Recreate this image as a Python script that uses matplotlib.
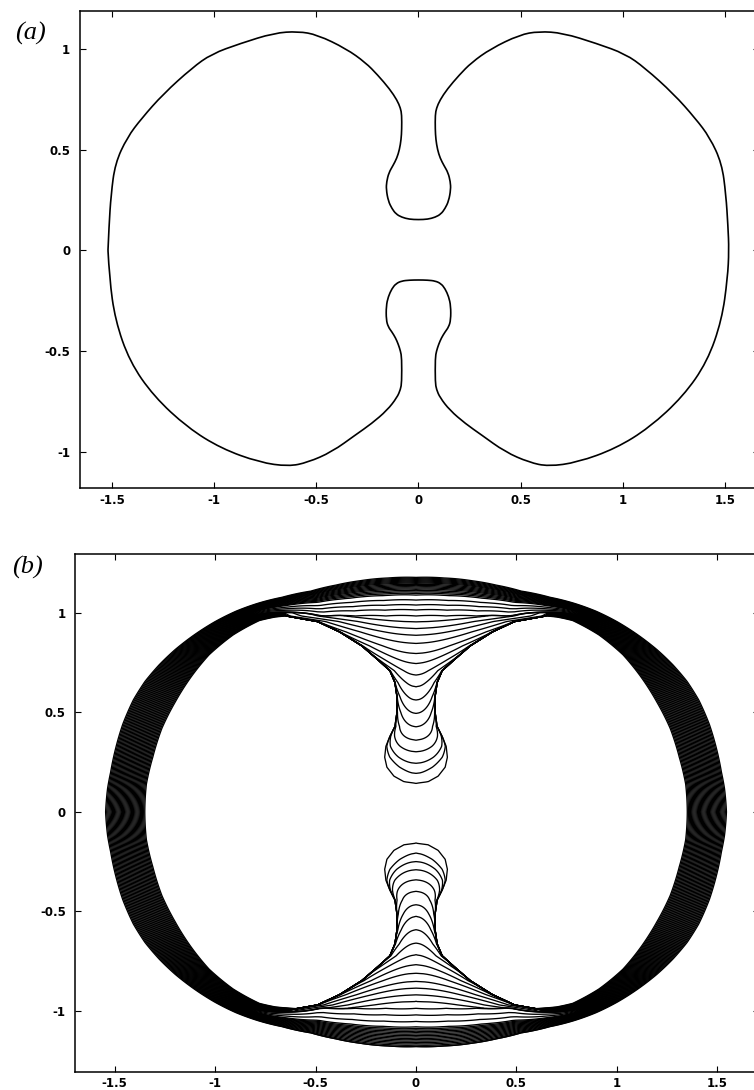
import numpy as np
import matplotlib
matplotlib.use("Agg")
import matplotlib.pyplot as plt
from matplotlib.path import Path
from matplotlib.patches import PathPatch

# ---- panel (a): final interface, right half (left half is the mirror image)
a_upper_x = [0.0, 0.045, 0.082, 0.11, 0.13, 0.148, 0.158, 0.156, 0.145, 0.125, 0.106,
             0.093, 0.085, 0.082, 0.082, 0.088, 0.105, 0.141, 0.2, 0.259, 0.354,
             0.495, 0.589, 0.707, 0.872, 1.013, 1.108, 1.249, 1.355, 1.426, 1.485,
             1.505, 1.515, 1.52]
a_upper_y = [0.152, 0.154, 0.164, 0.18, 0.207, 0.245, 0.302, 0.34, 0.385, 0.42, 0.457,
             0.5, 0.55, 0.6, 0.672, 0.705, 0.745, 0.80, 0.87, 0.931, 1.0,
             1.069, 1.086, 1.078, 1.026, 0.974, 0.905, 0.776, 0.655, 0.56, 0.431,
             0.276, 0.121, 0.0]
a_lower_x = [0.0, 0.045, 0.082, 0.11, 0.13, 0.148, 0.158, 0.158, 0.148, 0.13, 0.112,
             0.099, 0.088, 0.082, 0.082, 0.088, 0.105, 0.153, 0.23, 0.306, 0.424,
             0.542, 0.636, 0.778, 0.966, 1.131, 1.296, 1.414, 1.485, 1.513, 1.52]
a_lower_y = [-0.147, -0.148, -0.152, -0.165, -0.19, -0.23, -0.276, -0.345, -0.38, -0.405,
             -0.435, -0.466, -0.5, -0.534, -0.655, -0.69, -0.73, -0.793, -0.86, -0.914,
             -1.0, -1.052, -1.072, -1.052, -0.983, -0.879, -0.724, -0.552, -0.345,
             -0.138, 0.0]

# ---- panel (b): fronts at successive times
# outer envelope (first front), quarter from the side to the top
outer_x = [1.545, 1.535, 1.52, 1.495, 1.46, 1.407, 1.349, 1.278, 1.199, 1.104, 1.003,
           0.896, 0.783, 0.667, 0.524, 0.4, 0.28, 0.14, 0.0]
outer_y = [0.0, 0.12, 0.2, 0.32, 0.44, 0.563, 0.656, 0.740, 0.816, 0.890, 0.955,
           1.009, 1.05, 1.079, 1.11, 1.14, 1.162, 1.176, 1.179]
# inner edge of the ring, closed across the top between the lobes
inner_x = [1.35, 1.342, 1.31, 1.265, 1.2, 1.12, 1.03, 0.91, 0.78, 0.70, 0.645,
           0.45, 0.3, 0.15, 0.0]
inner_y = [0.0, 0.14, 0.276, 0.42, 0.55, 0.678, 0.79, 0.89, 0.962, 0.98, 0.985,
           0.985, 0.985, 0.985, 0.985]
# half-width of the final finger against height
finger_y = [0.144, 0.152, 0.18, 0.225, 0.275, 0.33, 0.38, 0.43, 0.5, 0.58, 0.65, 0.71,
            0.765, 0.835, 0.905, 0.957, 0.985, 1.05, 1.25]
finger_w = [0.0, 0.06, 0.11, 0.145, 0.156, 0.15, 0.13, 0.105, 0.095, 0.095, 0.105, 0.13,
            0.19, 0.27, 0.38, 0.49, 0.645, 0.72, 0.95]
# height of each front on the axis, upper finger and lower finger (as distance from 0)
tips_top = [1.179, 1.174, 1.169, 1.164, 1.159, 1.154, 1.149, 1.143, 1.137, 1.131, 1.125,
            1.119, 1.112, 1.105, 1.098, 1.09, 1.065, 1.04, 1.015, 0.985,
            0.956, 0.923, 0.889, 0.848, 0.797, 0.747, 0.689, 0.630, 0.563, 0.496,
            0.429, 0.362, 0.303, 0.245, 0.194, 0.144]
tips_bottom = [1.186, 1.179, 1.172, 1.165, 1.158, 1.151, 1.144, 1.137, 1.130, 1.123, 1.116,
               1.109, 1.102, 1.095, 1.088, 1.08, 1.053, 1.02, 0.987,
               0.953, 0.92, 0.886, 0.852, 0.811, 0.769, 0.719, 0.660, 0.593, 0.526,
               0.467, 0.40, 0.342, 0.291, 0.250, 0.208, 0.157]

x_ticks = [-1.5, -1, -0.5, 0, 0.5, 1, 1.5]
x_labels = ["-1.5", "-1", "-0.5", "0", "0.5", "1", "1.5"]
y_ticks = [-1, -0.5, 0, 0.5, 1]
y_labels = ["-1", "-0.5", "0", "0.5", "1"]

plt.rcParams['font.family'] = ['DejaVu Sans']

fig = plt.figure(figsize=(7.54, 10.9), dpi=100)
ax_a = fig.add_axes([0.1061, 0.5523, 0.9000, 0.4376])
ax_b = fig.add_axes([0.1001, 0.0169, 0.9060, 0.4751])

for ax in (ax_a, ax_b):
    ax.set_xticks(x_ticks)
    ax.set_xticklabels(x_labels)
    ax.set_yticks(y_ticks)
    ax.set_yticklabels(y_labels)
    ax.tick_params(direction='in', length=4, width=0.8, top=True, right=True,
                   labelsize=8.5, pad=4)
    ax.tick_params(axis='y', pad=7)
    for lab in ax.get_xticklabels() + ax.get_yticklabels():
        lab.set_fontweight('bold')
    for sp in ax.spines.values():
        sp.set_linewidth(1.1)


def smooth_path(xs, ys):
    # quadratic pieces through the midpoints, with the points as control points
    pts = np.column_stack([xs, ys])
    verts = [pts[0]]
    codes = [Path.MOVETO]
    for i in range(1, len(pts) - 1):
        end = pts[i + 1] if i == len(pts) - 2 else (pts[i] + pts[i + 1]) / 2
        verts += [pts[i], end]
        codes += [Path.CURVE3, Path.CURVE3]
    return Path(verts, codes)


# panel (a): one closed loop, upper branch left to right, lower branch back
ux = np.array(a_upper_x); uy = np.array(a_upper_y)
lx = np.array(a_lower_x); ly = np.array(a_lower_y)
loop_x = np.concatenate([-ux[::-1], ux[1:], lx[::-1][1:], -lx[1:]])
loop_y = np.concatenate([uy[::-1], uy[1:], ly[::-1][1:], ly[1:]])
ax_a.add_patch(PathPatch(smooth_path(loop_x, loop_y), fill=False, edgecolor='k', lw=1.2))
ax_a.set_xlim(-1.657, 1.665)
ax_a.set_ylim(-1.179, 1.187)

# panel (b): each front is the zero contour of ring-minus-finger
def to_polar(xs, ys):
    th = np.degrees(np.arctan2(ys, xs))
    r = np.hypot(xs, ys)
    order = np.argsort(th)
    return th[order], r[order]

th_o, r_o = to_polar(np.array(outer_x), np.array(outer_y))
th_i, r_i = to_polar(np.array(inner_x), np.array(inner_y))

xg = np.linspace(-1.7, 1.7, 1400)
yg = np.linspace(-1.3, 1.3, 1080)
X, Y = np.meshgrid(xg, yg)
R = np.hypot(X, Y)
TH = np.degrees(np.arctan2(np.abs(Y), np.abs(X)))
R_out = np.interp(TH, th_o, r_o)
R_in = np.interp(TH, th_i, r_i)
w = np.clip((TH - 50.0) / 14.0, 0, 1)

n = len(tips_top)
ring_s = np.arange(n) / (n - 1)
h_top = outer_y[-1]
h_bridge = inner_y[-1]
cap_len = 0.18

for k in range(n):
    s_top = np.clip((h_top - tips_top[k]) / (h_top - h_bridge), 0, 1)
    s_bot = np.clip((h_top - tips_bottom[k]) / (h_top - h_bridge), 0, 1)
    s = (1 - w) * ring_s[k] + w * np.where(Y >= 0, s_top, s_bot)
    f = R_out + s * (R_in - R_out) - R
    for tips, sign in ((tips_top, 1), (tips_bottom, -1)):
        tip = tips[k]
        if tip >= h_bridge:
            continue
        Yh = sign * Y
        shift = tips[-1] - finger_y[0]
        Wy = np.interp(Yh - shift, finger_y, finger_w)
        if k == n - 1:
            cap = np.ones_like(Yh)
        else:
            t = np.clip((Yh - tip) / cap_len, 0, 1)
            cap = np.sqrt(t * (2 - t))
        half = np.where(Yh >= tip, Wy * cap, -(tip - Yh))
        f = np.minimum(f, np.abs(X) - half)
    ax_b.contour(X, Y, f, levels=[0], colors='k', linewidths=0.95)

ax_b.set_xlim(-1.695, 1.705)
ax_b.set_ylim(-1.305, 1.298)

fig.text(0.040, 0.969, "(a)", fontsize=19, style='italic',
         family=['Liberation Serif', 'DejaVu Serif'], ha='center', va='center')
fig.text(0.037, 0.479, "(b)", fontsize=19, style='italic',
         family=['Liberation Serif', 'DejaVu Serif'], ha='center', va='center')

fig.savefig("out.png", dpi=100)
